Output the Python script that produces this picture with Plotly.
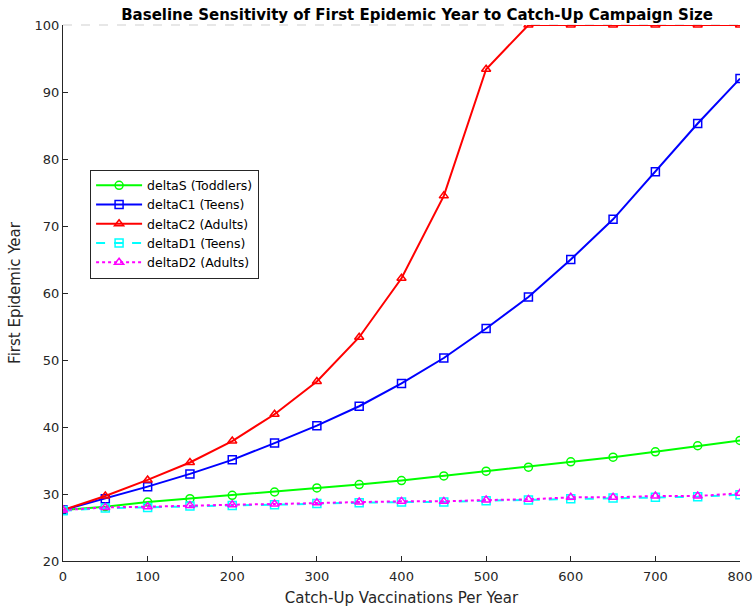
import plotly.graph_objects as go

x_vals = [0, 50, 100, 150, 200, 250, 300, 350, 400, 450, 500, 550, 600, 650, 700, 750, 800]
delta_s = [27.6, 28.1, 28.8, 29.3, 29.8, 30.3, 30.9, 31.4, 32.0, 32.7, 33.4, 34.0, 34.8, 35.5, 36.3, 37.2, 38.0]
delta_c1 = [27.6, 29.3, 31.1, 33.0, 35.1, 37.6, 40.2, 43.1, 46.5, 50.3, 54.7, 59.4, 65.0, 71.0, 78.1, 85.3, 92.0]
delta_c2 = [27.6, 29.7, 32.1, 34.7, 37.9, 41.9, 46.8, 53.4, 62.2, 74.5, 93.4, 100, 100, 100, 100, 100, 100]
delta_d1 = [27.5, 27.9, 28.0, 28.2, 28.3, 28.4, 28.6, 28.7, 28.8, 28.8, 29.0, 29.1, 29.3, 29.4, 29.5, 29.6, 29.9]
delta_d2 = [27.6, 28.0, 28.1, 28.3, 28.4, 28.5, 28.7, 28.8, 28.9, 28.9, 29.1, 29.2, 29.5, 29.5, 29.7, 29.7, 30.1]
x_ticks = [0, 100, 200, 300, 400, 500, 600, 700, 800]
y_ticks = [20, 30, 40, 50, 60, 70, 80, 90, 100]

series = [
    ("deltaS (Toddlers)", delta_s, "#00FF00", "solid", "circle-open"),
    ("deltaC1 (Teens)", delta_c1, "#0000FF", "solid", "square-open"),
    ("deltaC2 (Adults)", delta_c2, "#FF0000", "solid", "triangle-up-open"),
    ("deltaD1 (Teens)", delta_d1, "#00FFFF", "dash", "square-open"),
    ("deltaD2 (Adults)", delta_d2, "#FF00FF", "dot", "triangle-up-open"),
]

fig = go.Figure()
for name, ys, color, dash, sym in series:
    fig.add_trace(go.Scatter(
        x=x_vals, y=ys, name=name, mode="lines+markers",
        line=dict(color=color, width=2, dash=dash),
        marker=dict(symbol=sym, size=8, color=color, line=dict(width=1.5, color=color)),
    ))

fig.add_shape(type="line", xref="paper", yref="paper", x0=0, x1=1, y0=1, y1=1,
              line=dict(color="#d0d0d0", width=1.2, dash="dash"), layer="below")

FONT = "DejaVu Sans, Liberation Sans, Arial, sans-serif"
tick_font = dict(family=FONT, size=13, color="#262626")
title_font = dict(family=FONT, size=15, color="#262626")
fig.update_layout(
    width=755, height=609,
    margin=dict(l=63, r=15, t=25, b=48),
    paper_bgcolor="white", plot_bgcolor="white",
    font=tick_font,
    title=dict(text="<b>Baseline Sensitivity of First Epidemic Year to Catch-Up Campaign Size</b>",
               x=0.523, xref="paper", xanchor="center", y=1 - 15 / 609, yref="container", yanchor="middle",
               font=dict(family=FONT, size=15, color="#000000")),
    xaxis=dict(range=[0, 800], tickvals=x_ticks, ticks="inside", ticklen=5, tickcolor="#262626",
               showline=True, linecolor="#262626", linewidth=1, showgrid=False, zeroline=False,
               automargin=False, tickfont=tick_font, ticklabelstandoff=3,
               title=dict(text="Catch-Up Vaccinations Per Year", font=title_font, standoff=9)),
    yaxis=dict(range=[20, 100], tickvals=y_ticks, ticks="inside", ticklen=5, tickcolor="#262626",
               showline=True, linecolor="#262626", linewidth=1, showgrid=False, zeroline=False,
               automargin=False, tickfont=tick_font,
               title=dict(text="First Epidemic Year", font=title_font, standoff=10)),
    legend=dict(x=0.04, y=0.73, xanchor="left", yanchor="top",
                bgcolor="white", bordercolor="#262626", borderwidth=1,
                font=dict(family=FONT, size=12.5, color="#000000"),
                itemwidth=46, tracegroupgap=0),
    showlegend=True,
)

fig.write_html("out.html")
